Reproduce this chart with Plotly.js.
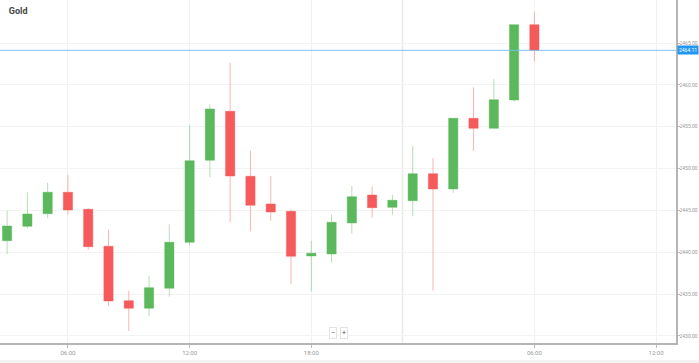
<!DOCTYPE html>
<html>
<head>
<meta charset="utf-8">
<script src="https://cdn.plot.ly/plotly-3.0.1.min.js"></script>
<style>html,body{margin:0;padding:0;background:#fff;}#chart{width:699px;height:363px;}</style>
</head>
<body>
<div id="chart"></div>
<script>
const times = [
  '2024-08-01 03:00','2024-08-01 04:00','2024-08-01 05:00','2024-08-01 06:00','2024-08-01 07:00',
  '2024-08-01 08:00','2024-08-01 09:00','2024-08-01 10:00','2024-08-01 11:00','2024-08-01 12:00',
  '2024-08-01 13:00','2024-08-01 14:00','2024-08-01 15:00','2024-08-01 16:00','2024-08-01 17:00',
  '2024-08-01 18:00','2024-08-01 19:00','2024-08-01 20:00','2024-08-01 21:00','2024-08-01 22:00',
  '2024-08-02 00:00','2024-08-02 01:00','2024-08-02 02:00','2024-08-02 03:00','2024-08-02 04:00',
  '2024-08-02 05:00','2024-08-02 06:00'
];
const opens  = [2441.38,2443.10,2444.61,2447.17,2445.14,2440.72,2434.22,2433.31,2435.70,2441.19,
                2450.99,2456.84,2449.08,2445.77,2444.90,2439.56,2439.80,2443.50,2446.84,2445.37,
                2446.16,2449.39,2447.56,2456.01,2454.81,2458.19,2467.19];
const highs  = [2444.97,2447.17,2448.31,2449.23,2445.26,2442.75,2435.41,2437.20,2443.34,2455.21,
                2457.68,2462.65,2452.14,2449.11,2445.09,2441.38,2444.49,2447.92,2447.84,2446.88,
                2452.70,2451.26,2456.01,2459.71,2460.67,2467.19,2468.74];
const lows   = [2439.80,2442.87,2444.06,2444.49,2440.27,2433.58,2430.60,2432.39,2434.69,2440.79,
                2448.99,2443.58,2442.51,2443.77,2436.21,2435.34,2438.76,2442.22,2444.13,2444.45,
                2444.30,2435.41,2447.12,2452.10,2454.69,2457.99,2462.82];
const closes = [2443.14,2444.57,2447.17,2445.05,2440.67,2434.18,2433.32,2435.77,2441.19,2450.94,
                2457.12,2449.11,2445.61,2444.81,2439.52,2439.88,2443.58,2446.64,2445.33,2446.21,
                2449.39,2447.56,2456.01,2454.81,2458.23,2467.19,2464.11];

const xTickVals = ['2024-08-01 06:00','2024-08-01 12:00','2024-08-01 18:00','2024-08-01 22:30','2024-08-02 06:00','2024-08-02 12:00'];
const xTickText = ['06:00','12:00','18:00','02/08','06:00','12:00'];
const yTickVals = [2430,2435,2440,2445,2450,2455,2460,2465];
const yTickText = yTickVals.map(v => v.toFixed(2));
const lastPrice = closes[closes.length - 1];
const dayBreak = '2024-08-01 22:30';

const trace = {
  type: 'candlestick',
  x: times, open: opens, high: highs, low: lows, close: closes,
  increasing: {line: {color: 'rgba(92,184,92,0.45)', width: 1}, fillcolor: '#5cb85c'},
  decreasing: {line: {color: 'rgba(246,90,90,0.45)', width: 1}, fillcolor: '#f65a5a'},
  whiskerwidth: 0,
  hoverinfo: 'none',
  showlegend: false
};

const layout = {
  width: 699, height: 363,
  margin: {l: 0, r: 23, t: 0, b: 20, pad: 0},
  paper_bgcolor: '#ffffff', plot_bgcolor: '#ffffff',
  font: {family: 'Roboto, sans-serif', color: '#999'},
  boxgap: 0.35,
  title: {text: '<b>Gold</b>', x: 0.013, xanchor: 'left', y: 0.971, yanchor: 'middle', xref: 'paper', yref: 'container',
          font: {size: 9, color: '#444', family: 'Roboto, sans-serif'}},
  xaxis: {
    type: 'date',
    range: ['2024-08-01 02:39', '2024-08-02 12:59'],
    rangebreaks: [{values: [dayBreak], dvalue: 3600000}],
    rangeslider: {visible: false},
    tickmode: 'array', tickvals: xTickVals, ticktext: xTickText,
    ticks: 'outside', ticklen: 3, tickcolor: '#bbb',
    tickfont: {size: 6, color: '#999'},
    showgrid: true, gridcolor: '#f1f1f1', gridwidth: 1,
    showline: true, linecolor: '#b5b5b5', linewidth: 1.5,
    zeroline: false, fixedrange: true
  },
  yaxis: {
    side: 'right',
    range: [2429.16, 2470.14],
    tickmode: 'array', tickvals: yTickVals, ticktext: yTickText,
    ticks: 'outside', ticklen: 2, tickcolor: '#bbb',
    ticklabelstandoff: -1,
    tickfont: {size: 5, color: '#999'},
    showgrid: true, gridcolor: '#f3f3f3', gridwidth: 1,
    showline: true, linecolor: '#b5b5b5', linewidth: 1.5,
    zeroline: false, fixedrange: true
  },
  shapes: [
    {type: 'line', xref: 'x', yref: 'paper', x0: dayBreak, x1: dayBreak, y0: 0, y1: 1,
     line: {color: '#ebebeb', width: 1.5}, layer: 'below'},
    {type: 'line', xref: 'paper', yref: 'y', x0: 0, x1: 1, y0: lastPrice, y1: lastPrice,
     line: {color: 'rgba(120,190,240,0.75)', width: 1.2}},
    {type: 'line', xref: 'paper', yref: 'paper', x0: 0, x1: 1.04, y0: -0.0525, y1: -0.0525,
     line: {color: '#e6e6e6', width: 1}},
    {type: 'rect', xref: 'paper', yref: 'paper', x0: 0, x1: 1.04, y0: -0.0545, y1: -0.07,
     fillcolor: '#f4f4f4', line: {width: 0}}
  ],
  annotations: [
    {xref: 'paper', yref: 'y', x: 1, y: lastPrice, xanchor: 'left', yanchor: 'middle', xshift: 1,
     text: lastPrice.toFixed(2), showarrow: false, bgcolor: '#2196f3', borderpad: 1,
     font: {size: 5, color: '#ffffff'}},
    {xref: 'paper', yref: 'paper', x: 332.5/676, y: 1 - 333/343, xanchor: 'center', yanchor: 'middle',
     text: '−', showarrow: false, bgcolor: '#ffffff', bordercolor: '#e3e3e3', borderwidth: 1, borderpad: 1,
     font: {size: 7, color: '#555'}},
    {xref: 'paper', yref: 'paper', x: 344/676, y: 1 - 333/343, xanchor: 'center', yanchor: 'middle',
     text: '+', showarrow: false, bgcolor: '#ffffff', bordercolor: '#e3e3e3', borderwidth: 1, borderpad: 1,
     font: {size: 7, color: '#555'}}
  ]
};

Plotly.newPlot('chart', [trace], layout, {displayModeBar: false, staticPlot: true});
</script>
</body>
</html>
